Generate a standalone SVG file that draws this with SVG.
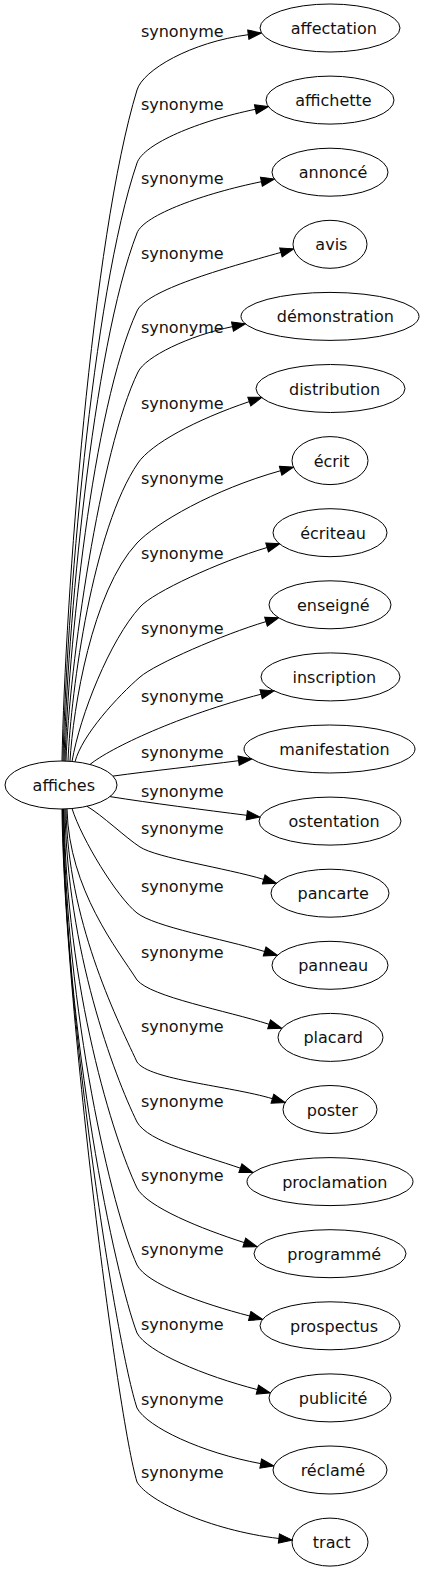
<svg xmlns="http://www.w3.org/2000/svg" width="425" height="1571" viewBox="0 0 425 1571">
<style>
.n ellipse{fill:none;stroke:#000;stroke-width:1}
text{font-family:"DejaVu Sans",Verdana,sans-serif;font-size:16px;fill:#111;text-anchor:middle}
.e path{fill:none;stroke:#000;stroke-width:1;marker-end:url(#a)}
</style>
<defs>
<marker id="a" markerUnits="userSpaceOnUse" markerWidth="15" markerHeight="11" viewBox="-1 -5.5 15 11" refX="0" refY="0" orient="auto"><path d="M0,-4.67 L13.33,0 L0,4.67 z" fill="#000" stroke="#000" stroke-width="1"/></marker>
</defs>
<rect width="425" height="1571" fill="#fff"/>
<g id="connectors" class="e">
<g><path d="M62,761 C65,600 92,238 137,90 C143,70 190.9,42.2 248.3,34.7"/><text x="182.3" y="37">synonyme</text></g>
<g><path d="M63,761 C66,617.5 92,294.6 137,163 C143.6,143.7 198.6,120.9 255.4,109.3"/><text x="182.3" y="110">synonyme</text></g>
<g><path d="M64,761 C67,634.3 92,349.2 137,233 C144,214.8 204.6,193.3 261.4,181.7"/><text x="182.3" y="184">synonyme</text></g>
<g><path d="M65,761 C68,653.5 92,409.6 137,311 C146.5,290.1 223,268.6 280.9,252.4"/><text x="182.3" y="259">synonyme</text></g>
<g><path d="M66,761 C69,667.6 100,450 138,372 C145.4,356.7 188.5,335.8 232.5,326.6"/><text x="182.3" y="333">synonyme</text></g>
<g><path d="M68,761 C71,689.5 93,528.6 138,463 C151,444 195,420 249.3,401.6"/><text x="182.3" y="409">synonyme</text></g>
<g><path d="M70,761 C73,708.7 92,591 137,543 C155.8,523 213.2,489.6 280.6,470.7"/><text x="182.3" y="484">synonyme</text></g>
<g><path d="M72,761.5 C80,715 110,640 140,607 C153.2,592 219.2,561.9 267.1,547.5"/><text x="182.3" y="559">synonyme</text></g>
<g><path d="M75,761.8 C82,735 118,696 140,677 C155,664 222.9,634.5 266,621.6"/><text x="182.3" y="634">synonyme</text></g>
<g><path d="M90,764.5 C110,748 179.8,715.2 261.1,694.2"/><text x="182.3" y="702">synonyme</text></g>
<g><path d="M113,776.1 C150,771 199.9,765.7 238.6,760.7"/><text x="182.3" y="758">synonyme</text></g>
<g><path d="M110,796.6 C150,803 205,810 246.8,815.3"/><text x="182.3" y="797">synonyme</text></g>
<g><path d="M87,806.3 C102,815 126,838 140,847 C157,858 225.4,867.9 263.7,879.4"/><text x="182.3" y="834">synonyme</text></g>
<g><path d="M72,808.5 C82,840 117,897 137,913 C155,927 221.5,938.6 264.6,951.5"/><text x="182.3" y="892">synonyme</text></g>
<g><path d="M67,809 C69,890 118,950 137,980 C151,997 226.3,1010.6 269.1,1024.3"/><text x="182.3" y="958">synonyme</text></g>
<g><path d="M66,809 C68,920 115,1015 137,1062 C149,1080 229.3,1085.8 272.4,1098.7"/><text x="182.3" y="1032">synonyme</text></g>
<g><path d="M65,809 C67,950 114,1075 137,1122 C148,1142 202.6,1155 240.4,1168.2"/><text x="182.3" y="1107">synonyme</text></g>
<g><path d="M64,809 C66,990 114,1140 137,1188 C147,1207 201.5,1228.9 244.3,1242.6"/><text x="182.3" y="1181">synonyme</text></g>
<g><path d="M63.5,809 C65.5,1014 112,1210 137,1265 C147,1284 201.3,1303.5 249.7,1316"/><text x="182.3" y="1255">synonyme</text></g>
<g><path d="M63,809 C65,1040 115,1275 137,1333 C147,1352 204.2,1375.9 257.4,1389.6"/><text x="182.3" y="1330">synonyme</text></g>
<g><path d="M62.5,809 C64.5,1020 117,1348 137,1408 C147,1427 201.7,1452.8 260.7,1463.6"/><text x="182.3" y="1405">synonyme</text></g>
<g><path d="M62,809 C64,1000 118,1420 137,1482 C148,1501 209,1530 278.9,1538.5"/><text x="182.3" y="1478">synonyme</text></g>
</g>
<g id="affiches" class="n"><ellipse cx="61" cy="785" rx="56" ry="24"/><text x="63.8" y="791">affiches</text></g>
<g id="affectation" class="n"><ellipse cx="330" cy="28" rx="70" ry="24"/><text x="333.9" y="34">affectation</text></g>
<g id="affichette" class="n"><ellipse cx="330" cy="100.1" rx="64" ry="24"/><text x="333.5" y="106.1">affichette</text></g>
<g id="annonce" class="n"><ellipse cx="330" cy="172.2" rx="58" ry="24"/><text x="333.1" y="178.2">annoncé</text></g>
<g id="avis" class="n"><ellipse cx="330" cy="244.3" rx="37" ry="24"/><text x="331.4" y="250.3">avis</text></g>
<g id="demonstration" class="n"><ellipse cx="330" cy="316.4" rx="89" ry="24"/><text x="335.3" y="322.4">démonstration</text></g>
<g id="distribution" class="n"><ellipse cx="330.5" cy="388.5" rx="74.5" ry="24"/><text x="334.6" y="394.5">distribution</text></g>
<g id="ecrit" class="n"><ellipse cx="330" cy="460.6" rx="38" ry="24"/><text x="331.6" y="466.6">écrit</text></g>
<g id="ecriteau" class="n"><ellipse cx="330" cy="532.7" rx="57" ry="24"/><text x="333" y="538.7">écriteau</text></g>
<g id="enseigne" class="n"><ellipse cx="330" cy="604.8" rx="61" ry="24"/><text x="333.3" y="610.8">enseigné</text></g>
<g id="inscription" class="n"><ellipse cx="330.5" cy="676.9" rx="69.5" ry="24"/><text x="334.3" y="682.9">inscription</text></g>
<g id="manifestation" class="n"><ellipse cx="329.5" cy="749" rx="85.5" ry="24"/><text x="334.5" y="755">manifestation</text></g>
<g id="ostentation" class="n"><ellipse cx="330" cy="821.1" rx="71" ry="24"/><text x="334.1" y="827.1">ostentation</text></g>
<g id="pancarte" class="n"><ellipse cx="330" cy="893.2" rx="59" ry="24"/><text x="333.2" y="899.2">pancarte</text></g>
<g id="panneau" class="n"><ellipse cx="330" cy="965.3" rx="58" ry="24"/><text x="333.2" y="971.3">panneau</text></g>
<g id="placard" class="n"><ellipse cx="330.5" cy="1037.4" rx="52.5" ry="24"/><text x="333.2" y="1043.4">placard</text></g>
<g id="poster" class="n"><ellipse cx="330" cy="1109.5" rx="47" ry="24"/><text x="332.3" y="1115.5">poster</text></g>
<g id="proclamation" class="n"><ellipse cx="330" cy="1181.6" rx="83" ry="24"/><text x="334.8" y="1187.6">proclamation</text></g>
<g id="programme" class="n"><ellipse cx="330" cy="1253.7" rx="76" ry="24"/><text x="334.2" y="1259.7">programmé</text></g>
<g id="prospectus" class="n"><ellipse cx="330" cy="1325.8" rx="70" ry="24"/><text x="334" y="1331.8">prospectus</text></g>
<g id="publicite" class="n"><ellipse cx="330" cy="1397.9" rx="61" ry="24"/><text x="333.1" y="1403.9">publicité</text></g>
<g id="reclame" class="n"><ellipse cx="330" cy="1470" rx="57" ry="24"/><text x="332.9" y="1476">réclamé</text></g>
<g id="tract" class="n"><ellipse cx="330" cy="1542.1" rx="38" ry="24"/><text x="331.7" y="1548.1">tract</text></g>
</svg>
